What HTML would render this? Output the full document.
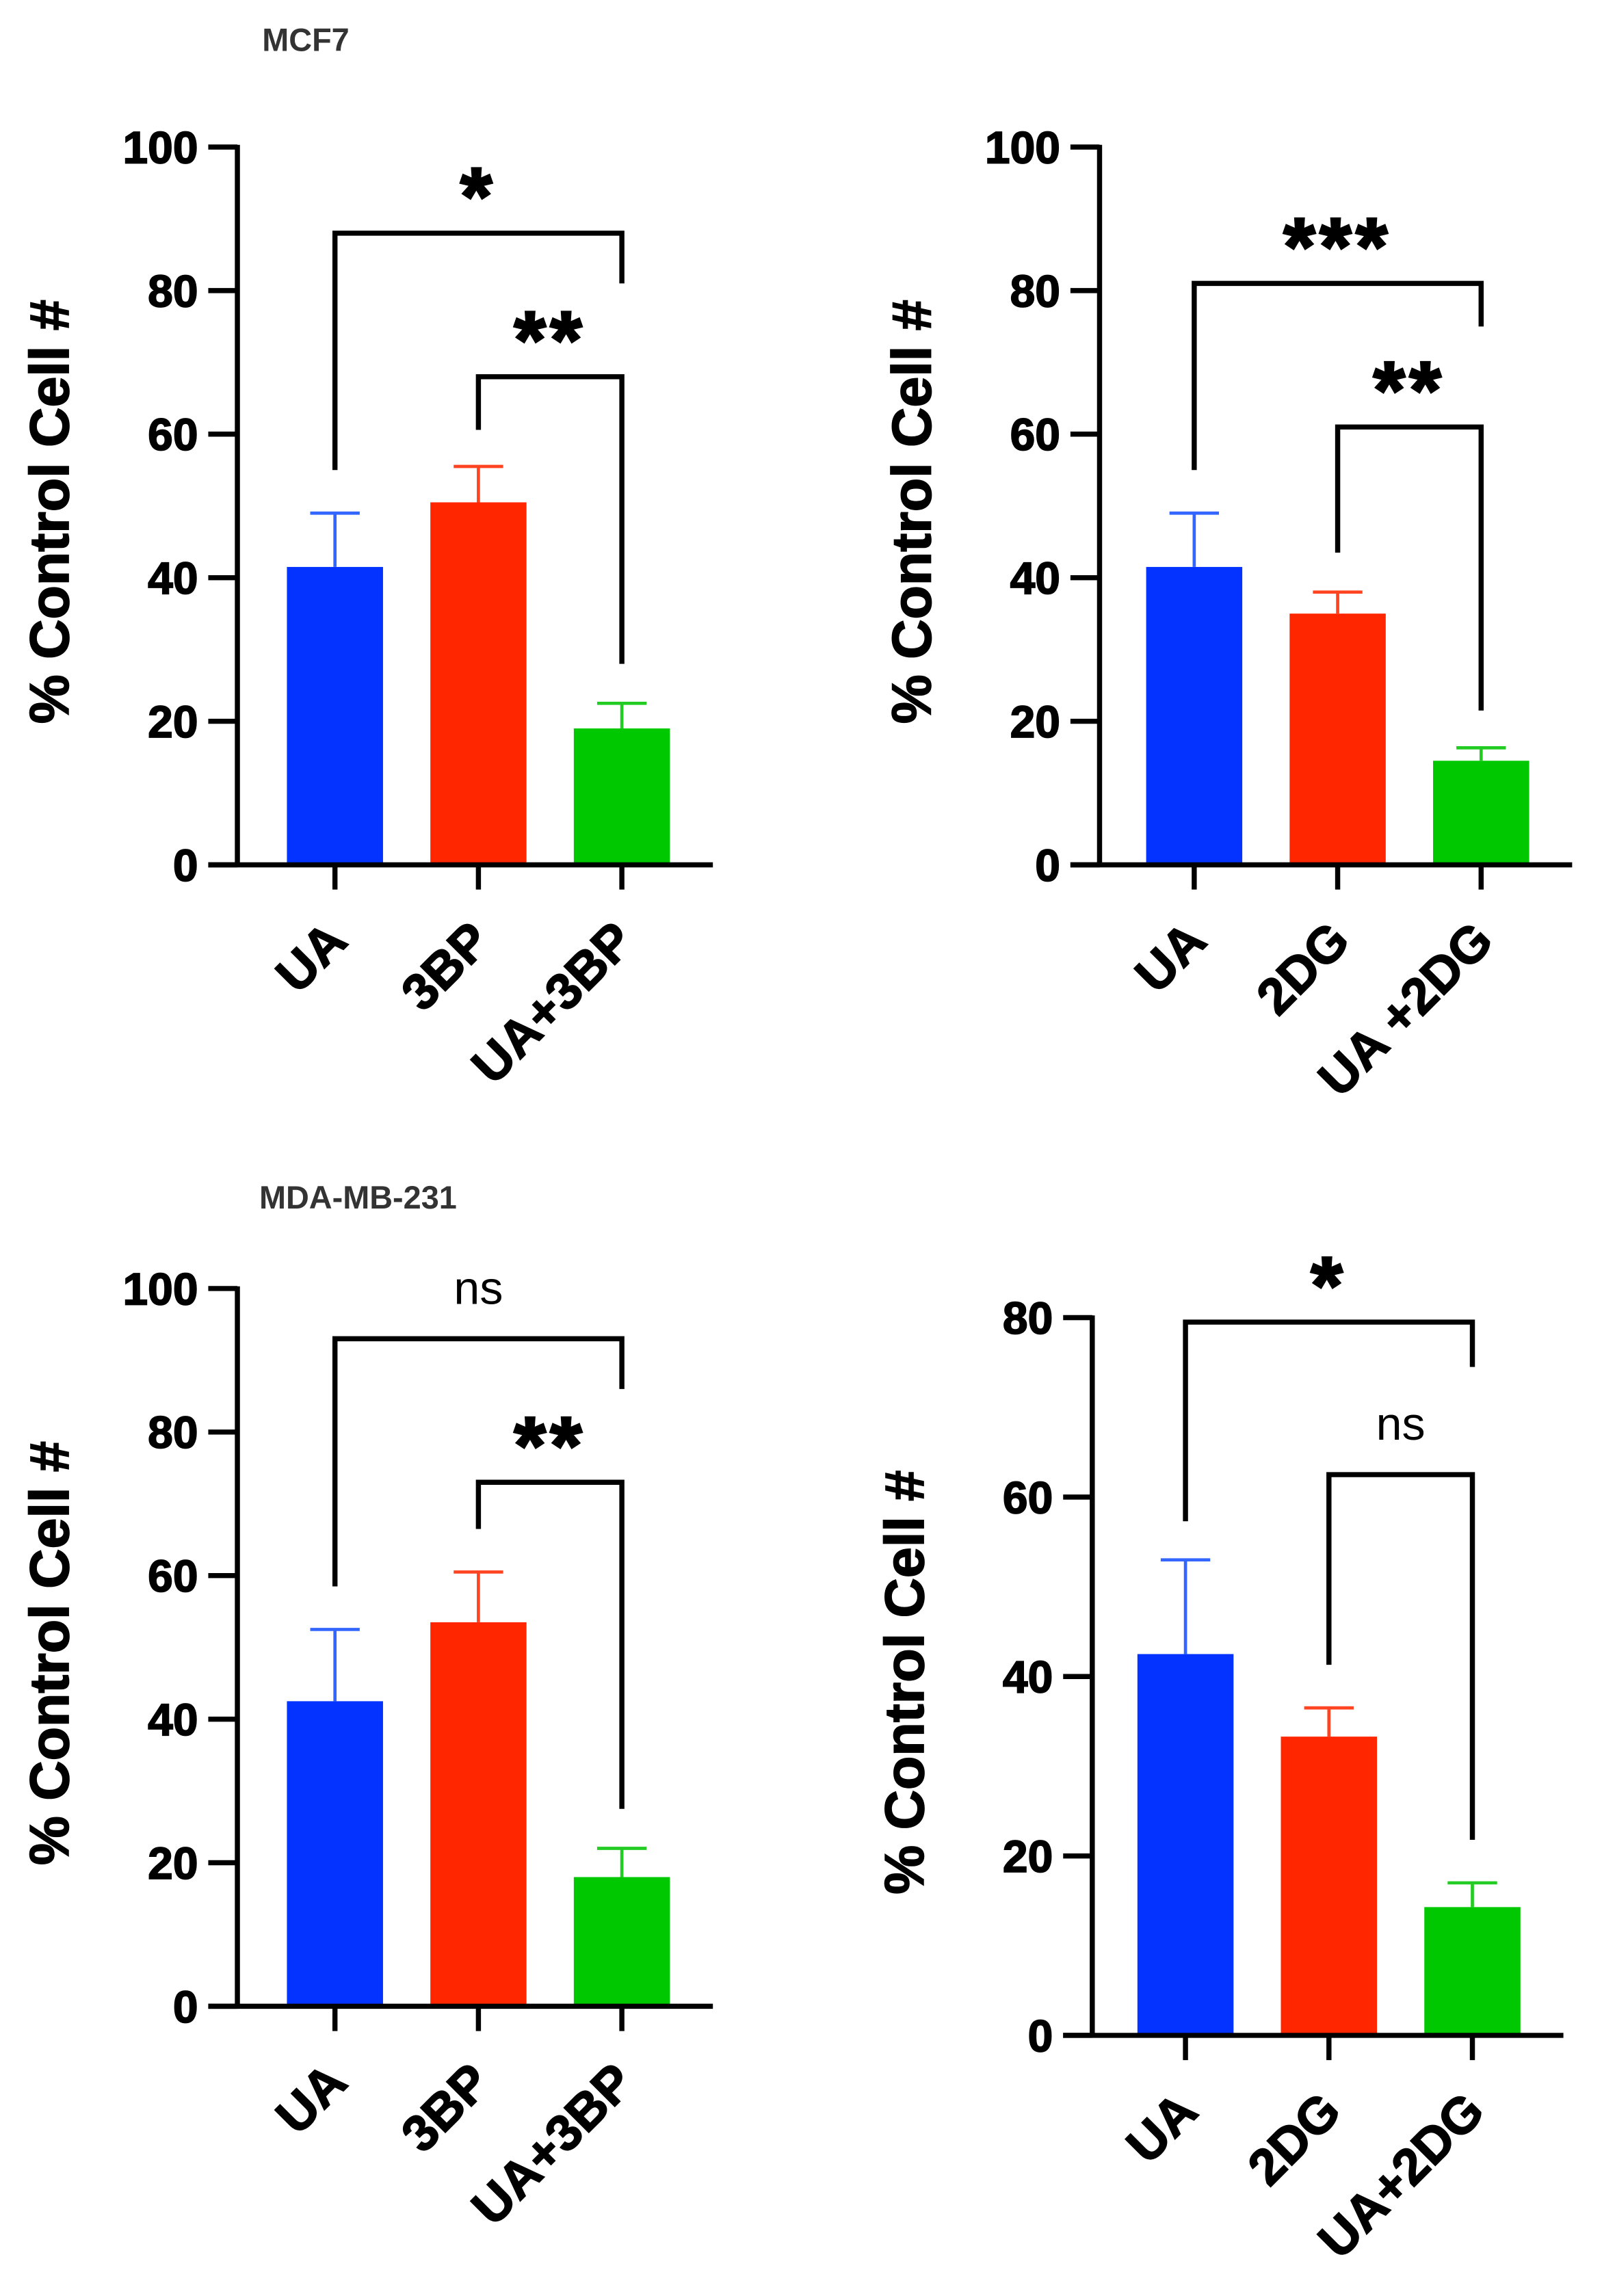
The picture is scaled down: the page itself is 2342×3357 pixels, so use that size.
<!DOCTYPE html>
<html><head><meta charset="utf-8"><style>
html,body{margin:0;padding:0;background:#fff;}
svg{display:block;}
text{font-family:"Liberation Sans",Arial,sans-serif;font-weight:bold;fill:#000;}
</style></head><body>
<svg id="fig" width="2342" height="3357" viewBox="0 0 1100 1577" preserveAspectRatio="none" xmlns="http://www.w3.org/2000/svg">
<text x="180" y="35" font-size="22" style="fill:#333">MCF7</text>
<text x="178" y="830" font-size="22" style="fill:#333">MDA-MB-231</text>
</svg>
<script>
// Panel A: MCF7 UA/3BP
const catsA = ["UA","3BP","UA+3BP"];
const valsA = [41.5, 50.5, 19];
const errsA = [49, 55.5, 22.5];
// Panel B: MCF7 UA/2DG
const catsB = ["UA","2DG","UA +2DG"];
const valsB = [41.5, 35, 14.5];
const errsB = [49, 38, 16.3];
// Panel C: MDA-MB-231 UA/3BP
const catsC = ["UA","3BP","UA+3BP"];
const valsC = [42.5, 53.5, 18];
const errsC = [52.5, 60.5, 22];
// Panel D: MDA-MB-231 UA/2DG
const catsD = ["UA","2DG","UA+2DG"];
const valsD = [42.5, 33.3, 14.3];
const errsD = [53, 36.5, 17];
const ticks100 = [0,20,40,60,80,100];
const ticks80 = [0,20,40,60,80];
// significance: [fromIdx,toIdx,barY(value),leftEnd,rightEnd,label]
const sigA = [[0,2,88,55,81,"*"],[1,2,68,60.6,28,"**"]];
const sigB = [[0,2,81,55,75,"***"],[1,2,61,43.5,21.5,"**"]];
const sigC = [[0,2,93,58.5,86,"ns"],[1,2,73,66.5,27.5,"**"]];
const sigD = [[0,2,79.5,57.3,74.5,"*"],[1,2,62.5,41.3,21.8,"ns"]];

const NS="http://www.w3.org/2000/svg";
const svg=document.getElementById('fig');
const colors=["#0433ff","#ff2600","#00c800"];
const errColors=["#3366ff","#ff4422","#22cc22"];
function el(tag,attrs,parent){const e=document.createElementNS(NS,tag);for(const k in attrs)e.setAttribute(k,attrs[k]);(parent||svg).appendChild(e);return e;}

function panel(id,ox,yTop,yBot,ymax,ticks,cats,vals,errs,sigs,barL){
  const g=el('g',{});
  
  
  const y=v=>yBot-(v/ymax)*(yBot-yTop);
  const bw=66, step=98.5;
  const cx=i=>barL+bw/2+i*step;
  vals.forEach((v,i)=>{
    const r=el('rect',{x:cx(i)-bw/2,y:y(v),width:bw,height:yBot-y(v),fill:colors[i]},g);
    
    
    const e=el('path',{d:`M${cx(i)} ${y(v)}V${y(errs[i])}M${cx(i)-17} ${y(errs[i])}H${cx(i)+17}`,stroke:errColors[i],'stroke-width':2.2,fill:'none'},g);
    
    
  });
  const ax=el('path',{d:`M${ox} ${yTop-1.5}V${yBot}M${ox-20} ${yBot}H${barL+3*step-3}`,stroke:'#000','stroke-width':3.5,fill:'none'},g);
  
  
  ticks.forEach(t=>{
    el('path',{d:`M${ox-20} ${y(t)}H${ox}`,stroke:'#000','stroke-width':3.5},g);
    const tx=el('text',{x:ox-27,y:y(t)+11,'font-size':31,'text-anchor':'end',stroke:'#000','stroke-width':0.8},g);
    tx.textContent=t;
    
    
  });
  cats.forEach((c,i)=>{
    el('path',{d:`M${cx(i)} ${yBot}V${yBot+17}`,stroke:'#000','stroke-width':3.5},g);
    const px=cx(i)+10, py=yBot+54;
    const tx=el('text',{x:px,y:py,'font-size':35,'text-anchor':'end',stroke:'#000','stroke-width':0.8,transform:`rotate(-45 ${px} ${py})`},g);
    tx.textContent=c;
    
    
  });
  const yc=(yTop+yBot)/2+4;
  const yt=el('text',{x:ox-116,y:yc,'font-size':38,'text-anchor':'middle',stroke:'#000','stroke-width':0.8,transform:`rotate(-90 ${ox-116} ${yc})`},g);
  yt.textContent='% Control Cell #';
  
  
  sigs.forEach(s=>{
    const x1=cx(s[0]),x2=cx(s[1]);
    const p=el('path',{d:`M${x1} ${y(s[3])}V${y(s[2])}H${x2}V${y(s[4])}`,stroke:'#000','stroke-width':3.5,fill:'none'},g);
    
    
    const isNs=s[5]==='ns';
    const t=el('text',{x:(x1+x2)/2,y:y(s[2])-(isNs?24:6),'font-size':isNs?32:56,'text-anchor':'middle','letter-spacing':isNs?0:3},g);
    if(isNs){t.style.fontWeight='normal';}
    else {t.setAttribute('stroke','#000');t.setAttribute('stroke-width','1.5');}
    t.textContent=s[5];
    
    
  });
}
panel('panel-mcf7-3bp',163,101,594,100,ticks100,catsA,valsA,errsA,sigA,197);
panel('panel-mcf7-2dg',755,101,594,100,ticks100,catsB,valsB,errsB,sigB,787);
panel('panel-mda-3bp',163,885,1378,100,ticks100,catsC,valsC,errsC,sigC,197);
panel('panel-mda-2dg',750,905,1398,80,ticks80,catsD,valsD,errsD,sigD,781);
</script>
</body></html>
